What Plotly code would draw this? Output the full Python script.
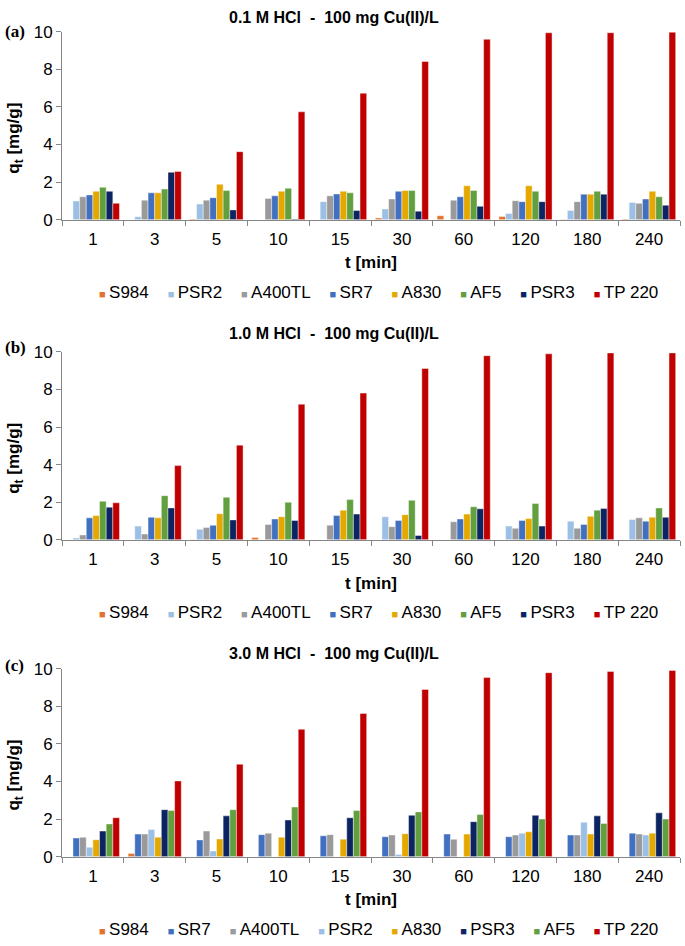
import plotly.graph_objects as go

categories = ["1", "3", "5", "10", "15", "30", "60", "120", "180", "240"]

colors = {
    "S984": "#E2722C", "PSR2": "#9CBFE5", "A400TL": "#9A9A9A", "SR7": "#4270C0",
    "A830": "#E5A800", "AF5": "#619F3F", "PSR3": "#0C2461", "TP 220": "#C00000",
}

# Panel (a) 0.1 M HCl
a_names = ["S984", "PSR2", "A400TL", "SR7", "A830", "AF5", "PSR3", "TP 220"]
a_S984 = [0, 0, 0.03, 0, 0, 0.09, 0.21, 0.17, -0.07, 0.03]
a_PSR2 = [0.99, 0.16, 0.83, 0, 0.96, 0.57, 0, 0.33, 0.49, 0.92]
a_A400TL = [1.22, 1.04, 1.04, 1.13, 1.27, 1.1, 1.04, 1.01, 0.96, 0.87]
a_SR7 = [1.32, 1.43, 1.17, 1.27, 1.37, 1.51, 1.22, 0.96, 1.36, 1.1]
a_A830 = [1.51, 1.43, 1.88, 1.51, 1.51, 1.55, 1.81, 1.81, 1.36, 1.51]
a_AF5 = [1.72, 1.63, 1.55, 1.67, 1.43, 1.55, 1.55, 1.51, 1.51, 1.22]
a_PSR3 = [1.51, 2.52, 0.52, 0.03, 0.49, 0.45, 0.71, 0.96, 1.36, 0.77]
a_TP220 = [0.87, 2.57, 3.62, 5.74, 6.73, 8.42, 9.6, 9.95, 9.95, 9.98]

# Panel (b) 1.0 M HCl
b_names = ["S984", "PSR2", "A400TL", "SR7", "A830", "AF5", "PSR3", "TP 220"]
b_S984 = [0, 0, 0.02, 0.12, 0, 0, 0, 0, 0, 0]
b_PSR2 = [0.1, 0.73, 0.56, 0, 0, 1.23, 0, 0.73, 0.99, 1.08]
b_A400TL = [0.26, 0.31, 0.66, 0.82, 0.78, 0.7, 0.96, 0.61, 0.61, 1.17]
b_SR7 = [1.17, 1.2, 0.77, 1.11, 1.29, 1.03, 1.11, 1.03, 0.82, 0.99]
b_A830 = [1.29, 1.17, 1.39, 1.23, 1.58, 1.34, 1.37, 1.13, 1.25, 1.2]
b_AF5 = [2.05, 2.35, 2.26, 2.0, 2.14, 2.1, 1.76, 1.93, 1.58, 1.7]
b_PSR3 = [1.74, 1.7, 1.06, 1.03, 1.37, 0.23, 1.65, 0.73, 1.67, 1.2]
b_TP220 = [1.97, 3.95, 5.04, 7.22, 7.81, 9.12, 9.8, 9.9, 9.95, 9.95]

# Panel (c) 3.0 M HCl
c_names = ["S984", "SR7", "A400TL", "PSR2", "A830", "PSR3", "AF5", "TP 220"]
c_S984 = [0, 0.17, 0, 0, 0, 0, 0, 0, 0, 0]
c_SR7 = [0.99, 1.2, 0.89, 1.17, 1.11, 1.06, 1.2, 1.06, 1.15, 1.25]
c_A400TL = [1.03, 1.2, 1.36, 1.25, 1.17, 1.15, 0.92, 1.15, 1.15, 1.2]
c_PSR2 = [0.5, 1.44, 0.3, 0, 0, 0.12, 0, 1.25, 1.83, 1.15]
c_A830 = [0.9, 1.03, 0.94, 1.03, 0.93, 1.22, 1.2, 1.32, 1.2, 1.25]
c_PSR3 = [1.36, 2.5, 2.17, 1.95, 2.07, 2.2, 1.86, 2.2, 2.17, 2.33]
c_AF5 = [1.74, 2.45, 2.5, 2.64, 2.45, 2.38, 2.24, 2.0, 1.77, 2.0]
c_TP220 = [2.07, 4.03, 4.92, 6.78, 7.62, 8.9, 9.53, 9.79, 9.86, 9.91]

titles = ["0.1 M HCl\u00a0\u00a0-\u00a0\u00a0100 mg Cu(II)/L",
          "1.0 M HCl\u00a0\u00a0-\u00a0\u00a0100 mg Cu(II)/L",
          "3.0 M HCl\u00a0\u00a0-\u00a0\u00a0100 mg Cu(II)/L"]
panel_labels = ["(a)", "(b)", "(c)"]

panels = [
    (a_names, [a_S984, a_PSR2, a_A400TL, a_SR7, a_A830, a_AF5, a_PSR3, a_TP220]),
    (b_names, [b_S984, b_PSR2, b_A400TL, b_SR7, b_A830, b_AF5, b_PSR3, b_TP220]),
    (c_names, [c_S984, c_SR7, c_A400TL, c_PSR2, c_A830, c_PSR3, c_AF5, c_TP220]),
]

W, H = 685, 946
FONT = "Arial, Liberation Sans, sans-serif"
x0, x1 = 62 / W, 680 / W
# plot area (top, bottom) in pixels
areas = [(23.3, 215.0), (350.0, 541.7), (673.3, 865.0)]
title_y = [8.5, 331.5, 657.5]
label_y = [23.0, 345.5, 670.0]

fig = go.Figure()
layout = dict(
    width=W, height=H, margin=dict(l=0, r=0, t=0, b=0),
    paper_bgcolor="white", plot_bgcolor="white",
    barmode="group", bargap=0.14, bargroupgap=0.0,
    showlegend=False, font=dict(family=FONT, size=17, color="black"),
)
annotations = []

for i, (names, series) in enumerate(panels):
    sfx = "" if i == 0 else str(i + 1)
    for name, vals in zip(names, series):
        fig.add_trace(go.Bar(
            x=categories, y=vals, name=name,
            marker=dict(color=colors[name], line=dict(color="rgba(255,255,255,0.7)", width=0.6)),
            xaxis="x" + sfx, yaxis="y" + sfx,
        ))
    top, bot = areas[i]
    layout["xaxis" + sfx] = dict(
        domain=[x0, x1], anchor="y" + sfx, type="category",
        showline=True, linecolor="#868686", linewidth=1,
        ticks="outside", tickson="boundaries", ticklen=5, tickcolor="#868686",
        tickfont=dict(size=17), ticklabelstandoff=4,
        showgrid=False, zeroline=False,
        title=dict(text="<b>t [min]</b>", font=dict(size=17), standoff=8),
    )
    layout["yaxis" + sfx] = dict(
        domain=[1 - bot / H, 1 - top / H], anchor="x" + sfx,
        range=[0, 10], tickvals=[0, 2, 4, 6, 8, 10],
        showline=True, linecolor="#868686", linewidth=1,
        ticks="outside", ticklen=5, tickcolor="#868686",
        tickfont=dict(size=17), showgrid=False, zeroline=False,
    )
    # panel title
    annotations.append(dict(
        x=334 / W, y=1 - title_y[i] / H, xref="paper", yref="paper",
        text="<b>" + titles[i] + "</b>", showarrow=False,
        font=dict(size=16), xanchor="center", yanchor="middle",
    ))
    # panel label
    annotations.append(dict(
        x=3 / W, y=1 - label_y[i] / H, xref="paper", yref="paper",
        text="<b>" + panel_labels[i] + "</b>", showarrow=False,
        font=dict(size=17, family="Liberation Serif, Times New Roman, serif"),
        xanchor="left", yanchor="middle",
    ))
    # y title
    annotations.append(dict(
        x=15 / W, y=1 - (top + 109) / H, xref="paper", yref="paper",
        text="<b>q<sub>t</sub> [mg/g]</b>", showarrow=False, textangle=-90,
        font=dict(size=17), xanchor="center", yanchor="middle",
    ))
    # legend line
    parts = []
    for name in names:
        parts.append("<span style='color:%s;font-size:11px'>\u25A0</span>\u2009%s" % (colors[name], name))
    annotations.append(dict(
        x=378 / W, y=1 - (bot + 74) / H, xref="paper", yref="paper",
        text="\u00a0\u00a0\u00a0\u00a0".join(parts), showarrow=False,
        font=dict(size=17), xanchor="center", yanchor="middle",
    ))

layout["annotations"] = annotations
fig.update_layout(**layout)
fig.write_html(
    "out.html",
    config={"displayModeBar": False},
    post_script="document.body.style.margin='0';document.body.style.overflow='hidden';",
)
